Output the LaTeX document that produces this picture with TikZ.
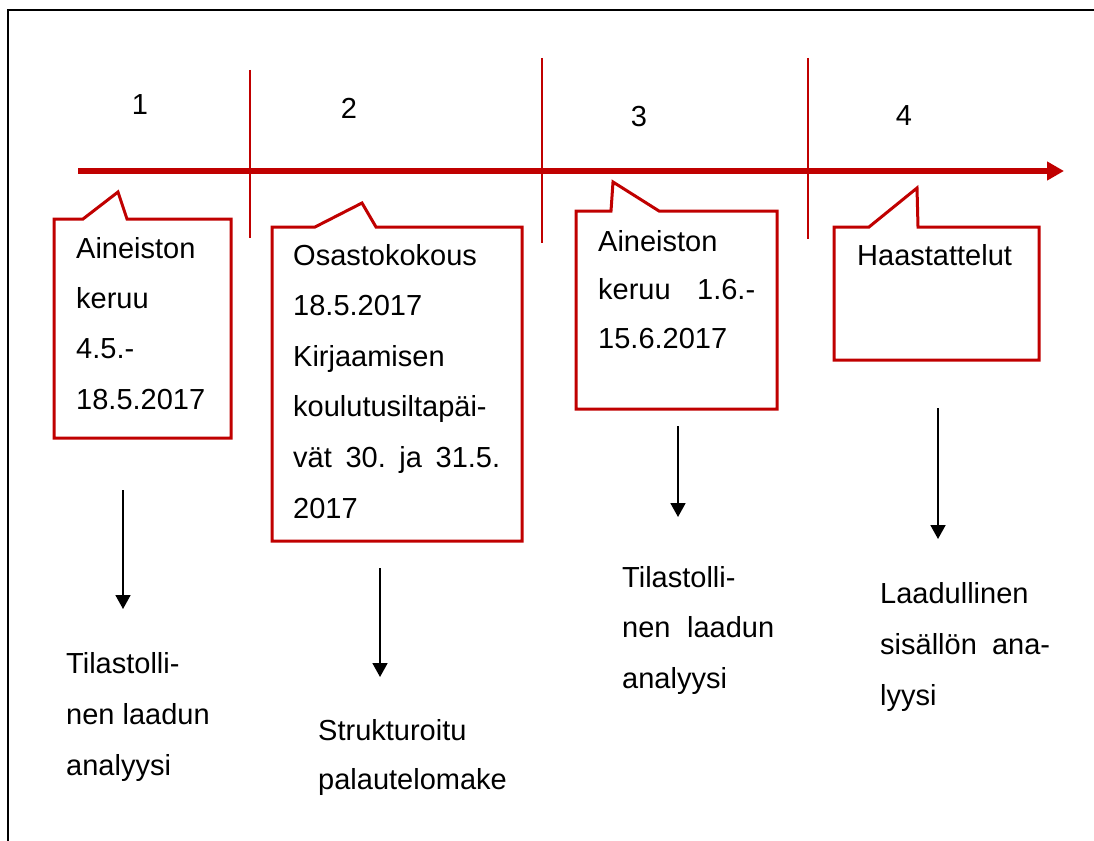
\documentclass[tikz,border=0pt]{standalone}
\usepackage{fontspec}
\setmainfont{Liberation Sans}
\usetikzlibrary{arrows.meta}
\definecolor{tlred}{HTML}{C00000}
\begin{document}
\begin{tikzpicture}[x=1pt,y=-1pt,
  frameline/.style={line width=1.6pt,black},
  axisline/.style={line width=6pt,tlred,-{Triangle[length=17pt,width=18pt]}},
  divline/.style={line width=1.8pt,tlred},
  callout/.style={line width=3pt,tlred,line join=miter,fill=white},
  downarrow/.style={line width=1.8pt,black,-{Triangle[length=14pt,width=15pt]}},
  txt/.style={inner sep=0pt,anchor=base west,align=left,font=\fontsize{29}{#1}\selectfont},
  num/.style={inner sep=0pt,anchor=base,font=\fontsize{29}{34}\selectfont}]
\useasboundingbox (0,0) rectangle (1094,840);
% frame
\draw[frameline] (8,860) -- (8,10) -- (1110,10);
% divider lines
\coordinate (v1t) at (250,70);  \coordinate (v1b) at (250,238);
\coordinate (v2t) at (542,58);  \coordinate (v2b) at (542,243);
\coordinate (v3t) at (808,58);  \coordinate (v3b) at (808,239);
\draw[divline] (v1t) -- (v1b);
\draw[divline] (v2t) -- (v2b);
\draw[divline] (v3t) -- (v3b);
% axis
\coordinate (axs) at (78,171); \coordinate (axe) at (1064,171);
\draw[axisline] (axs) -- (axe);
% numbers
\node[num] (n1) at (140,115) {1};
\node[num] (n2) at (349,119) {2};
\node[num] (n3) at (639,127) {3};
\node[num] (n4) at (904,125) {4};
% callouts
\draw[callout] (54,219) -- (83,219) -- (118,192) -- (127,219) -- (231,219) -- (231,438) -- (54,438) -- cycle;
\draw[callout] (272,227) -- (315,227) -- (362,203) -- (376,227) -- (522,227) -- (522,541) -- (272,541) -- cycle;
\draw[callout] (576,211) -- (611,211) -- (613,182) -- (659,211) -- (777,211) -- (777,409) -- (576,409) -- cycle;
\draw[callout] (834,227) -- (869,227) -- (917,188) -- (918,227) -- (1039,227) -- (1039,360) -- (834,360) -- cycle;
% callout texts (anchored at the baseline of the last line)
\node[txt=50.3] (t1) at (76,409) {Aineiston\\keruu\\4.5.-\\18.5.2017};
\node[txt=50.6] (t2) at (293,518) {Osastokokous\\18.5.2017\\Kirjaamisen\\koulutusiltapäi-\\\hbox to 207pt{vät\hfill 30.\hfill ja\hfill 31.5.}\\2017};
\node[txt=48.5] (t3) at (598,348) {Aineiston\\\hbox to 157pt{keruu\hfill 1.6.-}\\15.6.2017};
\node[txt=50] (t4) at (857,265) {Haastattelut};
% result texts
\node[txt=51] (r1) at (66,775) {Tilastolli-\\nen laadun\\analyysi};
\node[txt=49] (r2) at (318,789) {Strukturoitu\\palautelomake};
\node[txt=50.5] (r3) at (622,688) {Tilastolli-\\\hbox to 152pt{nen\hfill laadun}\\analyysi};
\node[txt=51] (r4) at (880,705) {Laadullinen\\\hbox to 170pt{sisällön\hfill ana-}\\lyysi};
% arrows
\coordinate (a1s) at (123,490); \coordinate (a1e) at (123,609);
\coordinate (a2s) at (380,568); \coordinate (a2e) at (380,677);
\coordinate (a3s) at (678,426); \coordinate (a3e) at (678,517);
\coordinate (a4s) at (938,408); \coordinate (a4e) at (938,539);
\draw[downarrow] (a1s) -- (a1e);
\draw[downarrow] (a2s) -- (a2e);
\draw[downarrow] (a3s) -- (a3e);
\draw[downarrow] (a4s) -- (a4e);
\end{tikzpicture}
\end{document}
